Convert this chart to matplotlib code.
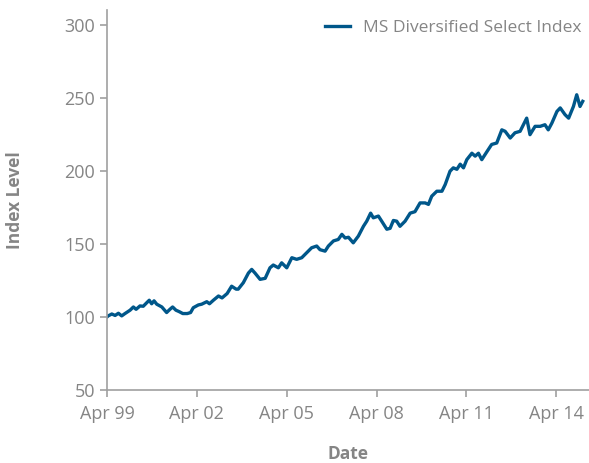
import matplotlib
matplotlib.use("Agg")
import matplotlib.pyplot as plt

# decimal years and index levels
years = [1999.25, 1999.29, 1999.41, 1999.52, 1999.63, 1999.74, 1999.85, 2000.02,
         2000.13, 2000.22, 2000.35, 2000.46, 2000.58, 2000.66, 2000.74, 2000.82,
         2000.91, 2001.08, 2001.24, 2001.35, 2001.44, 2001.55, 2001.66, 2001.78,
         2001.93, 2002.04, 2002.13, 2002.30, 2002.41, 2002.58, 2002.67, 2002.80,
         2002.97, 2003.09, 2003.26, 2003.41, 2003.56, 2003.63, 2003.80,
         2003.97, 2004.08, 2004.19, 2004.36, 2004.53, 2004.69, 2004.80, 2004.97,
         2005.08, 2005.25, 2005.42, 2005.58, 2005.75, 2005.92, 2006.08, 2006.25,
         2006.36, 2006.53, 2006.64, 2006.81, 2006.97, 2007.09, 2007.20, 2007.31,
         2007.47, 2007.64, 2007.81, 2007.92, 2008.05, 2008.14, 2008.31, 2008.42,
         2008.59, 2008.70, 2008.81, 2008.92, 2009.03, 2009.20, 2009.37, 2009.53,
         2009.70, 2009.87, 2009.98, 2010.09, 2010.26, 2010.43, 2010.54, 2010.70,
         2010.81, 2010.93, 2011.04, 2011.15, 2011.26, 2011.43, 2011.54, 2011.65,
         2011.76, 2011.93, 2012.09, 2012.26, 2012.43, 2012.54, 2012.71, 2012.87,
         2013.04, 2013.15, 2013.26, 2013.37, 2013.54, 2013.71, 2013.87, 2013.98,
         2014.10, 2014.27, 2014.38, 2014.54, 2014.66, 2014.82, 2014.93, 2015.04,
         2015.13]
index_level = [100, 100.7, 102, 101, 102.5, 100.7, 102.3, 104.6,
               106.8, 105.2, 107.5, 107.3, 109.8, 111.4, 109, 111,
               108.7, 106.8, 103, 105.2, 106.8, 104.6, 103.6, 102.3,
               102.3, 103, 106.3, 108.2, 108.7, 110.4, 109, 111.4,
               114.3, 113, 116, 121, 119, 119, 123.4,
               130, 132.5, 130, 125.7, 126.4, 133.6, 135.5, 133.6,
               137, 133.6, 140.5, 139.4, 140.5, 144, 147.3, 148.5,
               146, 145, 148.5, 152, 153, 156.5, 154, 154.5,
               150.7, 155.3, 162, 165.5, 171, 167.8, 169, 165.5,
               160, 160.6, 166, 165.5, 162, 165.5, 171, 172,
               178, 178, 177, 182.6, 186, 186, 190.6, 199.7,
               202, 201, 204.5, 202, 207.6, 212, 210, 212,
               207.6, 213, 218, 219, 228, 227, 222.4, 226,
               227, 231.5, 236, 224.7, 230.4, 230.4, 231.5, 228,
               232.6, 240.6, 243, 238.4, 236, 244, 252, 244,
               247.5]

tick_years = [1999.25, 2002.25, 2005.25, 2008.25, 2011.25, 2014.25]
tick_labels = ["Apr 99", "Apr 02", "Apr 05", "Apr 08", "Apr 11", "Apr 14"]

GREY = "#858585"
plt.rcParams["font.family"] = ["Open Sans", "DejaVu Sans"]

fig = plt.figure(figsize=(5.89, 4.63), dpi=100)
ax = fig.add_axes([0.1817, 0.1577, 0.8183, 0.8207])

ax.plot(years, index_level, color="#00578a", lw=2.4, solid_joinstyle="round",
        label="MS Diversified Select Index")

ax.set_xlim(1999.25, 2015.34)
ax.set_ylim(50, 310)
ax.set_yticks([50, 100, 150, 200, 250, 300])
ax.set_xticks(tick_years)
ax.set_xticklabels(tick_labels)

for s in ["top", "right"]:
    ax.spines[s].set_visible(False)
for s in ["left", "bottom"]:
    ax.spines[s].set_color("#a0a0a0")
    ax.spines[s].set_linewidth(1.2)
ax.tick_params(colors="#a0a0a0", labelcolor=GREY, labelsize=13, length=5, width=1.2)
ax.tick_params(axis="x", pad=6)

ax.set_ylabel("Index Level", color=GREY, fontsize=12.5, fontweight="bold")
ax.set_xlabel("Date", color=GREY, fontsize=12.5, fontweight="bold")
ax.yaxis.set_label_coords(-0.172, 0.5)
ax.xaxis.set_label_coords(0.5, -0.145)

leg = ax.legend(loc="upper right", frameon=False, fontsize=12.5, handlelength=1.4,
                handletextpad=0.75, borderaxespad=0.05, bbox_to_anchor=(1.0, 0.995))
for t in leg.get_texts():
    t.set_color(GREY)

fig.savefig("out.png", dpi=100)
